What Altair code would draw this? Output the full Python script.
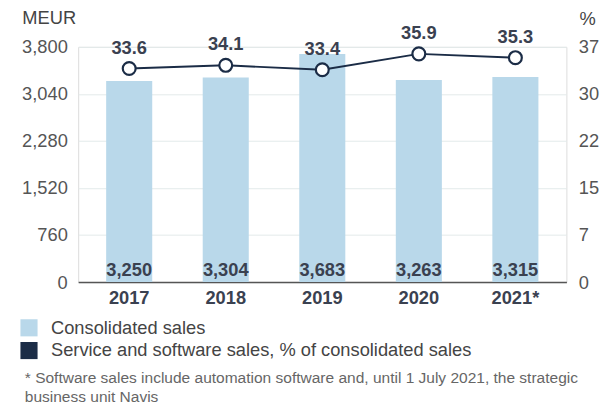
import altair as alt
import pandas as pd

years = ["2017", "2018", "2019", "2020", "2021*"]
sales = [3250, 3304, 3683, 3263, 3315]
pct = [33.6, 34.1, 33.4, 35.9, 35.3]
sales_labels = ["3,250", "3,304", "3,683", "3,263", "3,315"]
series = ["Consolidated sales", "Service and software sales, % of consolidated sales"]
left_ticks = [0, 760, 1520, 2280, 3040, 3800]
right_ticks = [0, 7.4, 14.8, 22.2, 29.6, 37]
footnote = ["* Software sales include automation software and, until 1 July 2021, the strategic",
            "business unit Navis"]

df = pd.DataFrame({"year": years, "sales": sales, "pct": pct,
                   "label": sales_labels, "series": series[0]})
FONT = "Liberation Sans"
BAR = "#b9d8ea"
NAVY = "#1b2c46"
TXT = "#3a4150"

xscale = alt.Scale(paddingInner=0.523, paddingOuter=0.29, round=False)
xaxis = alt.Axis(labelAngle=0, labelFont=FONT, labelFontSize=18.5, labelFontWeight="bold",
                 labelColor=TXT, labelPadding=7, ticks=False, domainColor="#555",
                 domainWidth=1.5)
xs = alt.X("year:N", sort=years, title=None, scale=xscale, axis=xaxis)

yl = alt.Scale(domain=[0, 3800], nice=False)
laxis = alt.Axis(values=left_ticks, labelExpr="format(datum.value, ',')",
                 labelFont=FONT, labelFontSize=18.5,
                 labelColor="#555", labelPadding=11, ticks=False, domain=False,
                 gridColor="#e3eaea", titleAngle=0, titleX=-57, titleY=-30,
                 titleAlign="left", titleBaseline="middle", titleFont=FONT,
                 titleFontSize=18.5, titleFontWeight="normal", titleColor="#444")
bars = alt.Chart(df).mark_bar().encode(
    x=xs,
    y=alt.Y("sales:Q", scale=yl, title="MEUR", axis=laxis),
    color=alt.Color("series:N", scale=alt.Scale(domain=series, range=[BAR, NAVY]),
                    legend=alt.Legend(title=None, orient="none", legendX=-59, legendY=275,
                                      symbolType="square", symbolSize=300, symbolStrokeWidth=0,
                                      labelFont=FONT, labelFontSize=18.5, labelColor="#444",
                                      labelOffset=13, rowPadding=4, labelLimit=600)),
)
bar_text = alt.Chart(df).mark_text(font=FONT, fontSize=18.5, fontWeight="bold", color=TXT,
                                   baseline="middle", dy=-12).encode(
    x=xs, y=alt.datum(0, scale=yl, axis=laxis, title="MEUR"), text="label:N")
left = alt.layer(bars, bar_text)

yr = alt.Scale(domain=[0, 37], nice=False)
yenc = alt.Y("pct:Q", scale=yr, title="%",
             axis=alt.Axis(orient="right", values=right_ticks, format=".0f", labelFont=FONT,
                           labelFontSize=18.5, labelColor="#555", labelPadding=12, ticks=False,
                           domain=False, grid=False, titleAngle=0, titleX=21, titleY=-29,
                           titleAlign="center", titleBaseline="middle", titleFont=FONT,
                           titleFontSize=18.5, titleFontWeight="normal", titleColor="#444"))
line = alt.Chart(df).mark_line(color=NAVY, strokeWidth=2).encode(x=xs, y=yenc)
pts = alt.Chart(df).mark_point(filled=True, fill="white", stroke=NAVY, strokeWidth=2.2,
                               size=170, opacity=1).encode(x=xs, y=yenc)
ptxt = alt.Chart(df).mark_text(font=FONT, fontSize=18.5, fontWeight="bold", color=TXT,
                               baseline="middle", dy=-21).encode(
    x=xs, y=yenc, text=alt.Text("pct:Q", format=".1f"))
right = alt.layer(line, pts, ptxt)

fn = pd.DataFrame({"t": [footnote]})
foot = alt.Chart(fn).mark_text(font=FONT, fontSize=15.7, color="#666", align="left",
                               baseline="middle", lineHeight=19.5).encode(
    x=alt.value(-54), y=alt.value(335), text="t")

chart = alt.layer(left, right, foot).resolve_scale(y="independent", color="independent").properties(
    width=494, height=238,
    autosize=alt.AutoSizeParams(type="none"),
    padding={"left": 71, "top": 37, "right": 35, "bottom": 121},
).configure_view(stroke=None).configure(background="white")

chart.save("out.html", embed_options={"renderer": "svg", "actions": False})
